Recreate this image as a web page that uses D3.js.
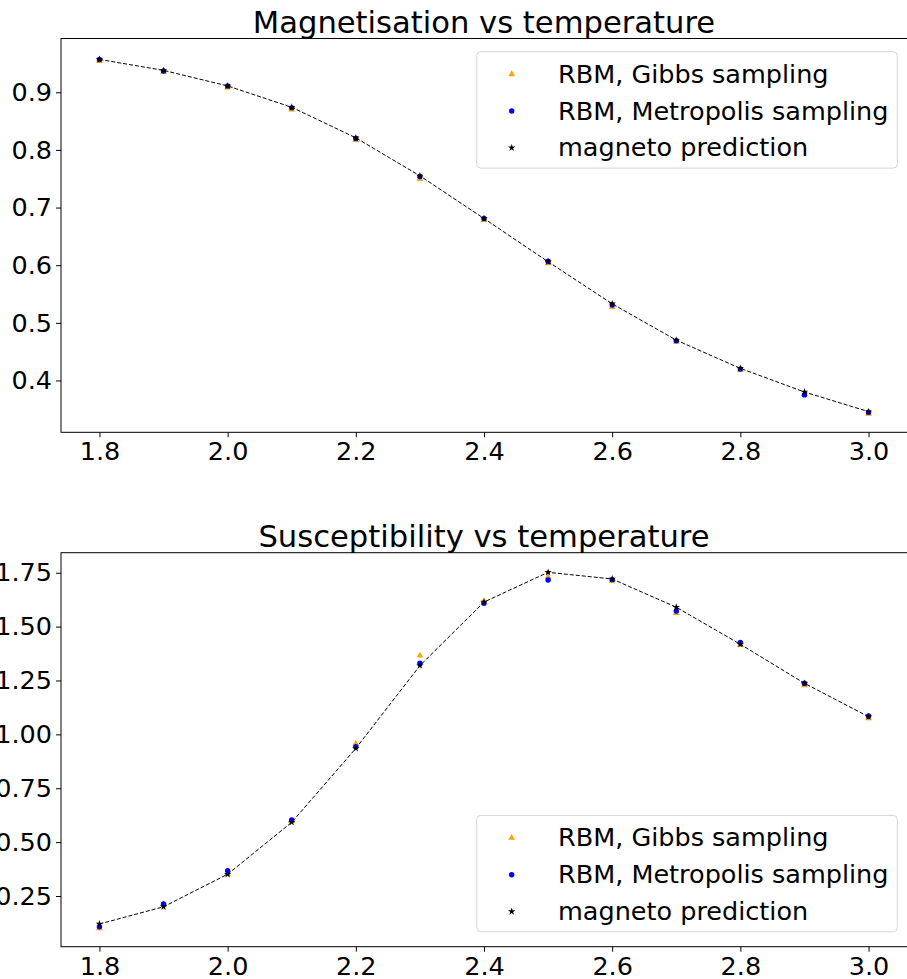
<!DOCTYPE html>
<html>
<head>
<meta charset="utf-8">
<script src="https://cdn.jsdelivr.net/npm/d3@7/dist/d3.min.js"></script>
<style>
  html, body { margin: 0; padding: 0; background: #fff; }
  svg { display: block; }
  text { font-family: "DejaVu Sans", sans-serif; fill: #000; }
</style>
</head>
<body>
<svg id="chart" width="907" height="979"></svg>
<script>
// Temperatures sampled in both panels
const temperatures = [1.8, 1.9, 2.0, 2.1, 2.2, 2.3, 2.4, 2.5, 2.6, 2.7, 2.8, 2.9, 3.0];

// Magnetisation per temperature
const magGibbs      = [0.956, 0.937, 0.910, 0.872, 0.819, 0.751, 0.680, 0.605, 0.529, 0.469, 0.420, 0.378, 0.344];
const magMetropolis = [0.957, 0.937, 0.911, 0.873, 0.820, 0.754, 0.681, 0.607, 0.531, 0.469, 0.420, 0.375, 0.345];
const magMagneto    = [0.957, 0.938, 0.911, 0.874, 0.821, 0.755, 0.681, 0.606, 0.533, 0.470, 0.421, 0.380, 0.346];

// Susceptibility per temperature
const susGibbs      = [0.105, 0.217, 0.357, 0.603, 0.961, 1.370, 1.623, 1.735, 1.717, 1.568, 1.420, 1.232, 1.079];
const susMetropolis = [0.107, 0.213, 0.367, 0.603, 0.943, 1.330, 1.608, 1.716, 1.718, 1.572, 1.427, 1.237, 1.085];
const susMagneto    = [0.120, 0.200, 0.351, 0.592, 0.935, 1.319, 1.614, 1.752, 1.721, 1.590, 1.418, 1.237, 1.082];

// Tick labels
const xTicks = [1.8, 2.0, 2.2, 2.4, 2.6, 2.8, 3.0];
const magTicks = [0.4, 0.5, 0.6, 0.7, 0.8, 0.9];
const susTicks = [0.25, 0.50, 0.75, 1.00, 1.25, 1.50, 1.75];

const seriesNames = ["RBM, Gibbs sampling", "RBM, Metropolis sampling", "magneto prediction"];

const svg = d3.select("#chart");
const FONT = 25.5;
const TITLE_FONT = 30.6;

const panels = [
  {
    title: "Magnetisation vs temperature",
    top: 38.5, bottom: 432.3,
    yDomain: [0.3101, 0.9933],
    yTicks: magTicks, yFmt: d3.format(".1f"),
    gibbs: magGibbs, metro: magMetropolis, magneto: magMagneto,
    legendTop: 51.7
  },
  {
    title: "Susceptibility vs temperature",
    top: 552.7, bottom: 946.7,
    yDomain: [0.0147, 1.843],
    yTicks: susTicks, yFmt: d3.format(".2f"),
    gibbs: susGibbs, metro: susMetropolis, magneto: susMagneto,
    legendTop: 815.4
  }
];

const left = 61, right = 907;
const x = d3.scaleLinear().domain([1.74, 3.06]).range([left, right]);

const triangle = d3.symbol().type(d3.symbolTriangle).size(20);
const circle = d3.symbol().type(d3.symbolCircle).size(23);
const star = d3.symbol().type(d3.symbolStar).size(17);

panels.forEach(p => {
  const y = d3.scaleLinear().domain(p.yDomain).range([p.bottom, p.top]);
  const g = svg.append("g");

  // Plot frame
  g.append("rect")
    .attr("x", left).attr("y", p.top)
    .attr("width", right - left + 1).attr("height", p.bottom - p.top)
    .attr("fill", "none").attr("stroke", "#000").attr("stroke-width", 1);

  // X axis
  const xAxis = d3.axisBottom(x).tickValues(xTicks).tickFormat(d3.format(".1f"))
    .tickSize(5).tickPadding(5);
  const gx = g.append("g").attr("transform", `translate(0,${p.bottom})`).call(xAxis);
  gx.select(".domain").remove();
  gx.selectAll("text").style("font-size", FONT + "px").attr("font-family", "DejaVu Sans");

  // Y axis
  const yAxis = d3.axisLeft(y).tickValues(p.yTicks).tickFormat(p.yFmt)
    .tickSize(5).tickPadding(4);
  const gy = g.append("g").attr("transform", `translate(${left},0)`).call(yAxis);
  gy.select(".domain").remove();
  gy.selectAll("text").style("font-size", FONT + "px").attr("font-family", "DejaVu Sans");

  // Title
  g.append("text")
    .attr("x", (left + right) / 2).attr("y", p.top - 5.5)
    .attr("text-anchor", "middle")
    .style("font-size", TITLE_FONT + "px")
    .text(p.title);

  const plot = g.append("g");

  // Gibbs sampling: orange triangles
  plot.selectAll(".gibbs").data(temperatures).join("path")
    .attr("class", "gibbs")
    .attr("d", triangle)
    .attr("transform", (t, i) => `translate(${x(t)},${y(p.gibbs[i]) + 1})`)
    .attr("fill", "#ffa500");

  // Metropolis sampling: blue dots
  plot.selectAll(".metro").data(temperatures).join("path")
    .attr("class", "metro")
    .attr("d", circle)
    .attr("transform", (t, i) => `translate(${x(t)},${y(p.metro[i])})`)
    .attr("fill", "#0000ff");

  // Magneto prediction: dashed line with stars
  const line = d3.line().x((t) => x(t)).y((t, i) => y(p.magneto[i]));
  plot.append("path")
    .datum(temperatures)
    .attr("d", line)
    .attr("fill", "none")
    .attr("stroke", "#000")
    .attr("stroke-width", 1)
    .attr("stroke-dasharray", "4,2");
  plot.selectAll(".magneto").data(temperatures).join("path")
    .attr("class", "magneto")
    .attr("d", star)
    .attr("transform", (t, i) => `translate(${x(t)},${y(p.magneto[i])})`)
    .attr("fill", "#000");

  // Legend
  const lg = g.append("g");
  const lx = 476.7, lw = 420.6, lh = 116.4;
  lg.append("rect")
    .attr("x", lx).attr("y", p.legendTop)
    .attr("width", lw).attr("height", lh)
    .attr("rx", 4).attr("ry", 4)
    .attr("fill", "#fff").attr("fill-opacity", 0.8)
    .attr("stroke", "#d6d6d6").attr("stroke-width", 1);
  const symbols = [
    { sym: triangle, color: "#ffa500" },
    { sym: circle, color: "#0000ff" },
    { sym: star, color: "#000" }
  ];
  seriesNames.forEach((name, i) => {
    const ry = p.legendTop + 22.5 + i * 36.8;
    lg.append("path")
      .attr("d", symbols[i].sym)
      .attr("transform", `translate(511.7,${ry})`)
      .attr("fill", symbols[i].color);
    lg.append("text")
      .attr("x", 558).attr("y", ry + 8.5)
      .style("font-size", FONT + "px")
      .text(name);
  });
});
</script>
</body>
</html>
